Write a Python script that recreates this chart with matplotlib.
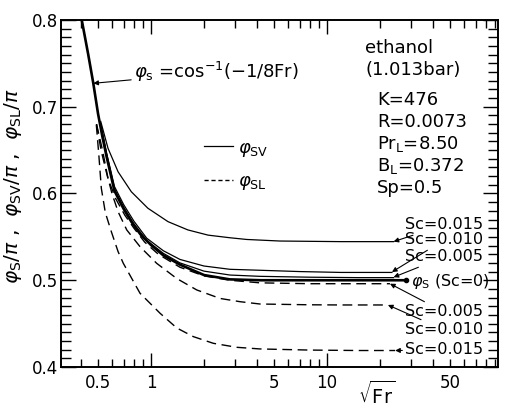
import numpy as np
import matplotlib.pyplot as plt
from matplotlib.lines import Line2D
from matplotlib.ticker import FixedLocator, FuncFormatter

plt.rcParams['font.family'] = 'DejaVu Sans'
plt.rcParams['mathtext.fontset'] = 'dejavusans'

# phi_s (Sc=0) = cos^-1(-1/8Fr)
x_s = [0.404, 0.44, 0.47, 0.50, 0.53, 0.56, 0.62, 0.70, 0.773, 0.87, 1.0, 1.17, 1.46, 2.0, 2.8, 4.2, 8.0, 15.0, 28.0]
y_s = [0.800, 0.760, 0.727, 0.692, 0.665, 0.642, 0.603, 0.582, 0.5675, 0.553, 0.5406, 0.529, 0.518, 0.506, 0.501, 0.500, 0.500, 0.500, 0.500]

# phi_SV (solid)
x_sv015 = [0.518, 0.57, 0.65, 0.773, 0.96, 1.25, 1.62, 2.11, 2.8, 3.5, 5.4, 12.0, 23.9]
y_sv015 = [0.683, 0.652, 0.625, 0.602, 0.583, 0.5675, 0.558, 0.552, 0.549, 0.547, 0.5452, 0.5445, 0.5445]
x_sv010 = [0.52, 0.56, 0.62, 0.70, 0.80, 0.945, 1.175, 1.46, 2.0, 2.81, 4.16, 7.0, 12.0, 23.4]
y_sv010 = [0.679, 0.646, 0.608, 0.587, 0.568, 0.5485, 0.534, 0.524, 0.5164, 0.5126, 0.5115, 0.510, 0.509, 0.509]
x_sv005 = [0.52, 0.56, 0.62, 0.70, 0.80, 0.945, 1.175, 1.46, 2.0, 2.81, 4.16, 8.0, 15.0, 23.9]
y_sv005 = [0.677, 0.644, 0.605, 0.584, 0.565, 0.546, 0.531, 0.520, 0.5105, 0.506, 0.5045, 0.5035, 0.503, 0.503]

# phi_SL (dashed)
x_sl005 = [0.49, 0.53, 0.57, 0.63, 0.71, 0.80, 0.92, 1.1, 1.46, 2.0, 2.8, 4.16, 8.0, 15.0, 22.8]
y_sl005 = [0.680, 0.650, 0.617, 0.594, 0.575, 0.560, 0.544, 0.530, 0.515, 0.505, 0.500, 0.497, 0.496, 0.496, 0.496]
x_sl010 = [0.49, 0.52, 0.557, 0.60, 0.65, 0.728, 0.866, 1.077, 1.40, 1.82, 2.47, 3.2, 4.16, 8.0, 12.0, 22.2]
y_sl010 = [0.680, 0.650, 0.625, 0.600, 0.579, 0.558, 0.5387, 0.5195, 0.502, 0.4888, 0.479, 0.4753, 0.4726, 0.4717, 0.4715, 0.4715]
x_sl015 = [0.489, 0.505, 0.522, 0.55, 0.595, 0.65, 0.696, 0.866, 1.125, 1.40, 1.74, 2.26, 3.07, 4.16, 8.0, 15.0, 24.4]
y_sl015 = [0.679, 0.645, 0.606, 0.578, 0.556, 0.533, 0.5195, 0.485, 0.462, 0.445, 0.435, 0.4273, 0.4227, 0.4208, 0.4195, 0.419, 0.419]

props = ["K=476", "R=0.0073", r"Pr$_{\rm L}$=8.50", r"B$_{\rm L}$=0.372", "Sp=0.5"]

fig = plt.figure(figsize=(5.05, 4.07), dpi=100)
ax = fig.add_axes([0.1208, 0.0983, 0.8653, 0.8526])

ax.plot(x_s, y_s, color='k', lw=1.9)
for xs, ys in [(x_sv015, y_sv015), (x_sv010, y_sv010), (x_sv005, y_sv005)]:
    ax.plot(xs, ys, color='k', lw=0.9)
for xs, ys in [(x_sl005, y_sl005), (x_sl010, y_sl010), (x_sl015, y_sl015)]:
    ax.plot(xs, ys, color='k', lw=1.0, dashes=(7, 4))

ax.set_xscale('log')
ax.set_xlim(0.308, 93.7)
ax.set_ylim(0.4, 0.8)

ax.xaxis.set_major_locator(FixedLocator([1, 10]))
ax.xaxis.set_minor_locator(FixedLocator([0.4, 0.5, 0.6, 0.7, 0.8, 0.9, 2, 3, 4, 5, 6, 7, 8, 9,
                                         20, 30, 40, 50, 60, 70, 80, 90]))
ax.xaxis.set_major_formatter(FuncFormatter(lambda v, p: '%g' % v))
ax.xaxis.set_minor_formatter(FuncFormatter(lambda v, p: '%g' % v if round(v, 3) in (0.5, 5, 50) else ''))
ax.yaxis.set_major_locator(FixedLocator([0.4, 0.5, 0.6, 0.7, 0.8]))
ax.yaxis.set_minor_locator(FixedLocator(np.arange(0.40, 0.80, 0.01)))
ax.yaxis.set_major_formatter(FuncFormatter(lambda v, p: '%.1f' % v))

ax.tick_params(axis='both', which='both', direction='in', top=True, right=True,
               labelsize=12, width=1.0)
ax.tick_params(axis='x', which='major', length=10, pad=5)
ax.tick_params(axis='x', which='minor', length=6, pad=5)
ax.tick_params(axis='y', which='major', length=11, pad=2)
ax.tick_params(axis='y', which='minor', length=7)
for s in ax.spines.values():
    s.set_linewidth(1.4)

ax.set_ylabel(r'$\varphi_{\rm S}/\pi$ ,  $\varphi_{\rm SV}/\pi$ ,  $\varphi_{\rm SL}/\pi$', fontsize=14.5)
ax.yaxis.set_label_coords(-0.085, 0.522)
ax.text(0.723, -0.078, r'$\sqrt{\rm Fr}$', transform=ax.transAxes, fontsize=14,
        ha='center', va='center')

# formula label
arw = dict(arrowstyle='-|>', lw=0.8, color='k', shrinkA=0, shrinkB=0, mutation_scale=7)
ax.annotate(r'$\varphi_{\rm s}$ =cos$^{-1}$(−1/8Fr)', xy=(0.47, 0.727), xytext=(0.80, 0.740),
            fontsize=13, ha='left', va='center', arrowprops=arw)

# legend
handles = [Line2D([], [], color='k', lw=0.9), Line2D([], [], color='k', lw=1.0, dashes=(3, 2))]
ax.legend(handles, [r'$\varphi_{\rm SV}$', r'$\varphi_{\rm SL}$'], loc='upper left',
          bbox_to_anchor=(0.29, 0.705), frameon=False, fontsize=13, handlelength=1.6,
          handletextpad=0.3, labelspacing=0.75)

# conditions
ax.text(0.696, 0.919, 'ethanol', transform=ax.transAxes, fontsize=13, va='center')
ax.text(0.696, 0.856, '(1.013bar)', transform=ax.transAxes, fontsize=13, va='center')
for i, t in enumerate(props):
    ax.text(0.723, 0.770 - i * 0.0635, t, transform=ax.transAxes, fontsize=13, va='center')

# curve labels
fs = 11.5
ax.annotate('Sc=0.015', xy=(23.9, 0.5445), xytext=(27.8, 0.5637), fontsize=fs, ha='left', va='center', arrowprops=arw)
ax.annotate('Sc=0.010', xy=(23.4, 0.5095), xytext=(27.8, 0.5464), fontsize=fs, ha='left', va='center', arrowprops=arw)
ax.annotate('Sc=0.005', xy=(23.9, 0.5035), xytext=(27.8, 0.5268), fontsize=fs, ha='left', va='center', arrowprops=arw)
ax.plot([x_s[-1]], [y_s[-1]], 'ko', ms=3)
ax.text(30.0, 0.498, r'$\varphi_{\rm S}$ (Sc=0)', fontsize=fs, ha='left', va='center')
ax.annotate('Sc=0.005', xy=(22.8, 0.496), xytext=(27.8, 0.4634), fontsize=fs, ha='left', va='center', arrowprops=arw)
ax.annotate('Sc=0.010', xy=(22.2, 0.4715), xytext=(27.8, 0.4427), fontsize=fs, ha='left', va='center', arrowprops=arw)
ax.annotate('Sc=0.015', xy=(24.4, 0.419), xytext=(27.8, 0.4196), fontsize=fs, ha='left', va='center', arrowprops=arw)

fig.savefig('out.png', dpi=100)
